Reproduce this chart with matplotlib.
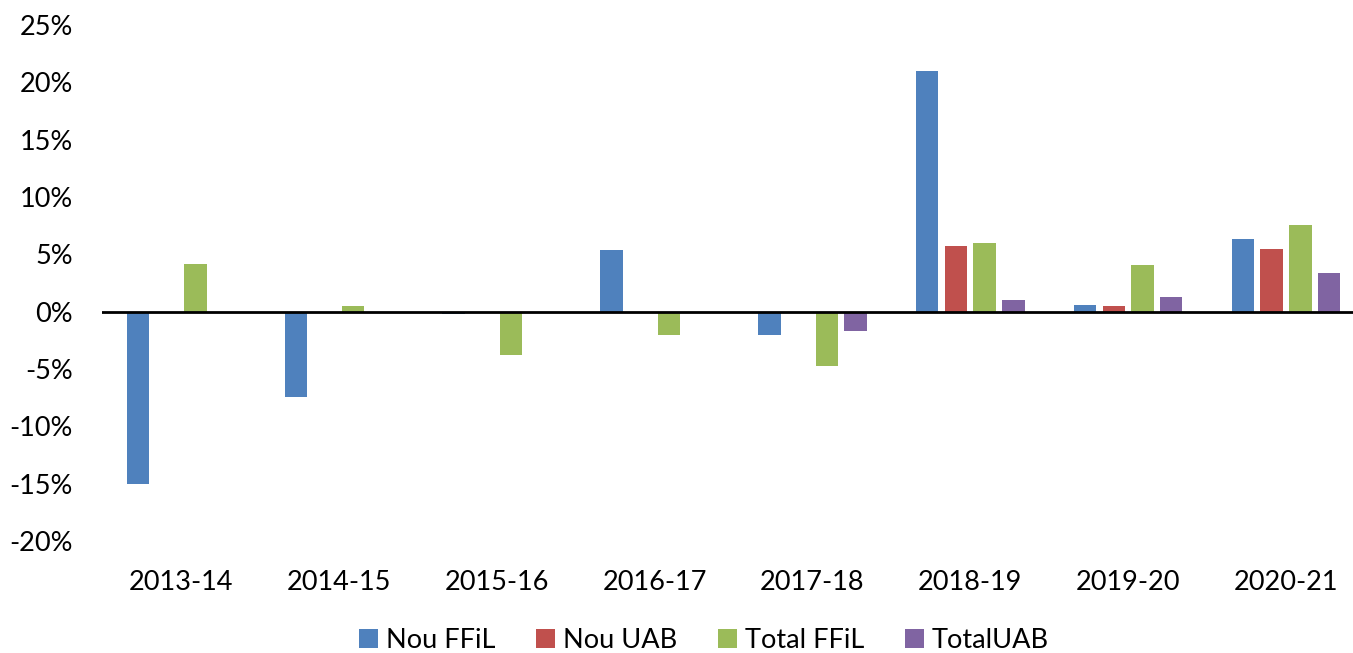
import matplotlib
matplotlib.use("Agg")
import matplotlib.pyplot as plt
import numpy as np
from matplotlib.ticker import FuncFormatter

categories = ["2013-14", "2014-15", "2015-16", "2016-17", "2017-18", "2018-19", "2019-20", "2020-21"]
nou_ffil = [-15.0, -7.4, -0.2, 5.4, -2.0, 21.0, 0.6, 6.3]
nou_uab = [0.0, 0.0, 0.0, 0.0, 0.0, 5.7, 0.5, 5.5]
total_ffil = [4.2, 0.5, -3.8, -2.0, -4.7, 6.0, 4.1, 7.6]
total_uab = [0.0, 0.0, 0.0, 0.0, -1.7, 1.0, 1.3, 3.4]
series_names = ["Nou FFiL", "Nou UAB", "Total FFiL", "TotalUAB"]
colors = ["#4F81BD", "#C0504D", "#9BBB59", "#8064A2"]

plt.rcParams['font.family'] = ['Lato', 'DejaVu Sans']

W, H = 1353, 653
fig = plt.figure(figsize=(W / 100, H / 100), dpi=100)
left = 102 / W
bottom = 1 - 541 / H
top = 1 - 25 / H
ax = fig.add_axes([left, bottom, 1 - left, top - bottom])

x = np.arange(len(categories))
step = 0.182
width = 0.142
all_series = [nou_ffil, nou_uab, total_ffil, total_uab]
for i, (vals, name, c) in enumerate(zip(all_series, series_names, colors)):
    ax.bar(x + (i - 1.5) * step, vals, width=width, color=c, label=name, zorder=2)

ax.axhline(0, color="black", linewidth=2, zorder=3)
ax.set_ylim(-20, 25)
ax.set_yticks(np.arange(-20, 26, 5))
ax.yaxis.set_major_formatter(FuncFormatter(lambda v, p: f"{int(v)}%"))
ax.set_xlim(-0.5, 7.5 - 12 / 158)
ax.set_xticks(x)
ax.set_xticklabels(categories)
for s in ax.spines.values():
    s.set_visible(False)
ax.tick_params(axis="both", length=0, labelsize=19.5, colors="black")
ax.tick_params(axis="y", pad=21)
ax.tick_params(axis="x", pad=21)

leg = fig.legend(loc="center", bbox_to_anchor=(704 / W, 1 - 640 / H), ncol=4, frameon=False,
                 fontsize=19.5, handlelength=0.7, handleheight=0.7, handletextpad=0.3,
                 columnspacing=1.5)

fig.savefig("out.png", dpi=100)
